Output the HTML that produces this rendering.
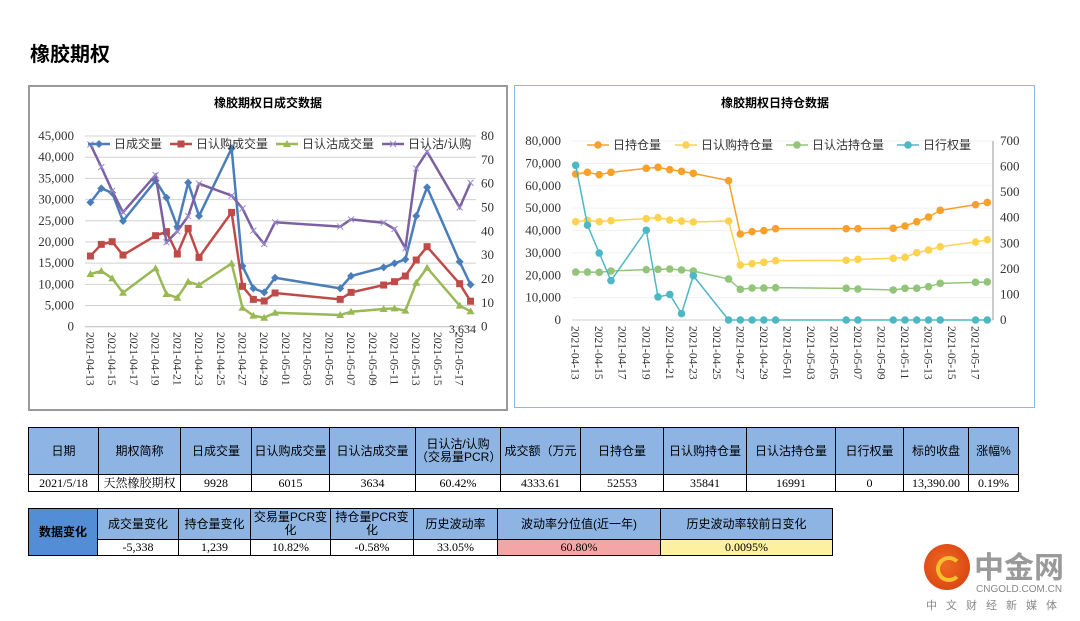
<!DOCTYPE html>
<html><head><meta charset="utf-8">
<style>
body{margin:0;width:1080px;height:621px;background:#fff;position:relative;overflow:hidden;font-family:"Liberation Serif","Noto Serif CJK SC",serif;}
.abs{position:absolute;}
table{border-collapse:collapse;position:absolute;font-size:12px;table-layout:fixed;}
td{border:1px solid #000;text-align:center;padding:0;line-height:13px;overflow:hidden;white-space:nowrap;}
.h td{background:#8db4e2;font-family:"Liberation Sans","Noto Sans CJK SC",sans-serif;font-size:12px;}
</style></head><body>
<div class="abs" style="left:30px;top:38px;font:bold 20px 'Liberation Sans','Noto Sans CJK SC',sans-serif;">橡胶期权</div>
<div class="abs" style="left:28px;top:85px;width:476px;height:322px;border:2px solid #9a9a9a;"></div>
<div class="abs" style="left:514px;top:85px;width:519px;height:321px;border:1.5px solid #8fb4ec;"></div>
<svg class="abs" id="svg" style="left:0;top:0" width="1080" height="421"></svg>

<table style="left:28px;top:427px;width:990px;">
<colgroup><col style="width:70px"><col style="width:82px"><col style="width:71px"><col style="width:78px"><col style="width:86px"><col style="width:85px"><col style="width:80px"><col style="width:83px"><col style="width:83px"><col style="width:89px"><col style="width:68px"><col style="width:65px"><col style="width:50px"></colgroup>
<tr class="h" style="height:47px"><td>日期</td><td>期权简称</td><td>日成交量</td><td>日认购成交量</td><td>日认沽成交量</td><td style="white-space:normal">日认沽/认购（交易量PCR）</td><td>成交额（万元</td><td>日持仓量</td><td>日认购持仓量</td><td>日认沽持仓量</td><td>日行权量</td><td>标的收盘</td><td>涨幅%</td></tr>
<tr style="height:17px"><td>2021/5/18</td><td>天然橡胶期权</td><td>9928</td><td>6015</td><td>3634</td><td>60.42%</td><td>4333.61</td><td>52553</td><td>35841</td><td>16991</td><td>0</td><td>13,390.00</td><td>0.19%</td></tr>
</table>
<table style="left:28px;top:508px;width:804px;">
<colgroup><col style="width:69px"><col style="width:81px"><col style="width:72px"><col style="width:80px"><col style="width:83px"><col style="width:84px"><col style="width:163px"><col style="width:172px"></colgroup>
<tr class="h" style="height:31px"><td rowspan="2" style="background:#538dd5;font-weight:bold;">数据变化</td><td>成交量变化</td><td>持仓量变化</td><td style="white-space:normal">交易量PCR变化</td><td style="white-space:normal">持仓量PCR变化</td><td>历史波动率</td><td>波动率分位值(近一年)</td><td>历史波动率较前日变化</td></tr>
<tr style="height:16px"><td>-5,338</td><td>1,239</td><td>10.82%</td><td>-0.58%</td><td>33.05%</td><td style="background:#f4a6a6">60.80%</td><td style="background:#fdf0a0">0.0095%</td></tr>
</table>

<div class="abs" style="left:924px;top:544px;width:46px;height:46px;border-radius:50%;background:radial-gradient(circle at 45% 45%,#f06a20,#d23a10);"></div>
<div class="abs" style="left:936px;top:556px;width:18px;height:18px;border-radius:50%;border:4px solid #f8c030;border-right-color:transparent;"></div>
<div class="abs" style="left:974px;top:548px;font:bold 30px 'Noto Sans CJK SC',sans-serif;color:#9a9a9a;line-height:34px;">中金网</div>
<div class="abs" style="left:976px;top:584px;font:10px 'Liberation Sans',sans-serif;color:#888;">CNGOLD.COM.CN</div>
<div class="abs" style="left:926px;top:597px;font:11px 'Noto Sans CJK SC',sans-serif;color:#888;letter-spacing:9px;">中文财经新媒体</div>

<script>
const days=[0,1,2,3,6,7,8,9,10,13,14,15,16,17,23,24,27,28,29,30,31,34,35];
const volTotal=[29340,32650,31600,24940,34460,30450,23600,33990,26120,42090,14320,9050,8100,11560,9050,11960,14000,14950,15900,26120,32880,15340,9928];
const volCall=[16680,19430,20060,16910,21480,22420,17150,23210,16360,26980,9520,6450,6060,7950,6450,8100,9830,10620,11960,15730,18880,10150,6015];
const volPut=[12430,13140,11410,8020,13770,7710,6840,10620,9830,14950,4480,2600,2120,3300,2750,3540,4170,4330,3780,10380,13920,4960,3634];
const volRatio=[76.5,67,57,48,63.6,35.4,40,46.4,60,55,49.6,40.3,34.7,43.8,42,45,43.6,41,32.9,66.4,73.4,50,60.4];
const oiTotal=[65250,66000,64950,66000,67780,68230,67190,66440,65550,62270,38440,39480,39930,40820,40820,40820,40970,42010,43950,46030,49010,51550,52553];
const oiCall=[43950,44540,43950,44390,45290,45730,44690,44240,43800,44240,24580,25180,25770,26520,26670,27110,27560,28010,30090,31280,32770,34860,35841];
const oiPut=[21450,21450,21300,21900,22500,22640,22790,22350,21900,18320,13700,14300,14300,14450,14150,13850,13410,14150,14150,14900,16390,16830,16991];
const exercise=[605,371,262,154,351,90,100,25,173,0,0,0,0,0,0,0,0,0,0,0,0,0,0];
const leftTicks=['0','5,000','10,000','15,000','20,000','25,000','30,000','35,000','40,000','45,000'];
const leftRTicks=['0','10','20','30','40','50','60','70','80'];
const rightTicks=['0','10,000','20,000','30,000','40,000','50,000','60,000','70,000','80,000'];
const rightRTicks=['0','100','200','300','400','500','600','700'];
const dateLabels=['2021-04-13','2021-04-15','2021-04-17','2021-04-19','2021-04-21','2021-04-23','2021-04-25','2021-04-27','2021-04-29','2021-05-01','2021-05-03','2021-05-05','2021-05-07','2021-05-09','2021-05-11','2021-05-13','2021-05-15','2021-05-17'];

const svg=document.getElementById('svg');const NS='http://www.w3.org/2000/svg';
function mk(t,a,p){const e=document.createElementNS(NS,t);for(const k in a)e.setAttribute(k,a[k]);(p||svg).appendChild(e);return e;}
const F='"Liberation Serif","Noto Serif CJK SC",serif';
const Lx=d=>85+(d+0.5)*10.86, Ly=v=>326.7-v/45000*190.7, Lyr=v=>326.7-v/80*190.7;
const Rx=d=>575.7+d*11.76, Ry=v=>320-v/80000*179, Ryr=v=>320-v/700*179;
function title(x,t){const e=mk('text',{x:x,y:107,'text-anchor':'middle','font-size':12,'font-weight':'bold','font-family':'"Liberation Sans","Noto Sans CJK SC",sans-serif'});e.textContent=t;}
title(268,'橡胶期权日成交数据');title(775,'橡胶期权日持仓数据');
leftTicks.forEach((t,i)=>{const y=Ly(i*5000);const l=mk('line',{x1:85,x2:476,y1:y,y2:y,stroke:i?'#d0d0d0':'#bbb','stroke-width':1});
 const e=mk('text',{x:74,y:y+4,'text-anchor':'end','font-size':13,'font-family':F,fill:'#333'});e.textContent=t;});
leftRTicks.forEach((t,i)=>{const e=mk('text',{x:481,y:Lyr(i*10)+4,'font-size':13,'font-family':F,fill:'#333'});e.textContent=t;});
rightTicks.forEach((t,i)=>{const y=Ry(i*10000);const l=mk('line',{x1:572,x2:993,y1:y,y2:y,stroke:i?'#f0f0f0':'#ccc','stroke-width':1});
 const e=mk('text',{x:561,y:y+4,'text-anchor':'end','font-size':13,'font-family':F,fill:'#333'});e.textContent=t;});
{const l=mk('line',{x1:993,x2:993,y1:141,y2:320,stroke:'#999'});}
rightRTicks.forEach((t,i)=>{const e=mk('text',{x:1000,y:Ryr(i*100)+4,'font-size':13,'font-family':F,fill:'#333'});e.textContent=t;});
dateLabels.forEach((t,i)=>{[[Lx(i*2),332],[Rx(i*2),326]].forEach(([x,y])=>{const e=mk('text',{x:0,y:0,transform:`translate(${x-4},${y}) rotate(90)`,'font-size':11.5,'font-family':F,fill:'#333'});e.textContent=t;});});
function series(vals,X,Y,col,mark,name,w){
 const pts=vals.map((v,i)=>[X(days[i]),Y(v)]);
 const p=mk('polyline',{points:pts.map(p=>p.join(',')).join(' '),fill:'none',stroke:col,'stroke-width':w||2.5});
 pts.forEach(([x,y])=>{marker(x,y,col,mark,name);});
}
function marker(x,y,col,mark,name){let m;
 if(mark=='d')m=mk('polygon',{points:`${x},${y-4} ${x+4},${y} ${x},${y+4} ${x-4},${y}`,fill:col});
 else if(mark=='s')m=mk('rect',{x:x-3.5,y:y-3.5,width:7,height:7,fill:col});
 else if(mark=='t')m=mk('polygon',{points:`${x},${y-4} ${x+4},${y+3} ${x-4},${y+3}`,fill:col});
 else if(mark=='x')m=mk('path',{d:`M${x-3},${y-3}L${x+3},${y+3}M${x-3},${y+3}L${x+3},${y-3}`,stroke:'#9b8bd0','stroke-width':1});
 else m=mk('circle',{cx:x,cy:y,r:3.8,fill:col});
 }
series(volTotal,Lx,Ly,'#4a7ebb','d','daily-volume');
series(volCall,Lx,Ly,'#be4b48','s','call-volume');
series(volPut,Lx,Ly,'#98b954','t','put-volume');
series(volRatio,Lx,Lyr,'#7d60a0','x','put-call-ratio');
series(oiTotal,Rx,Ry,'#f9a02a','o','open-interest',1.5);
series(oiCall,Rx,Ry,'#fdd24e','o','call-open-interest',1.5);
series(oiPut,Rx,Ry,'#92c57a','o','put-open-interest',1.5);
series(exercise,Rx,Ryr,'#4db8c4','o','exercise-volume',1.5);
{const e=mk('text',{x:476,y:333,'text-anchor':'end','font-size':12,'font-family':F,fill:'#333'});e.textContent='3,634';}
function legend(items,y){items.forEach(([x,col,mark,t,w])=>{const l=mk('line',{x1:x,x2:x+22,y1:y,y2:y,stroke:col,'stroke-width':w});marker(x+11,y,col,mark,'legend');
 const e=mk('text',{x:x+26,y:y+4,'font-size':12,'font-family':'"Liberation Sans","Noto Sans CJK SC",sans-serif',fill:'#333'});e.textContent=t;});}
legend([[88,'#4a7ebb','d','日成交量',2.5],[170,'#be4b48','s','日认购成交量',2.5],[276,'#98b954','t','日认沽成交量',2.5],[382,'#7d60a0','x','日认沽/认购',2.5]],144);
legend([[587,'#f9a02a','o','日持仓量',1.5],[675,'#fdd24e','o','日认购持仓量',1.5],[786,'#92c57a','o','日认沽持仓量',1.5],[897,'#4db8c4','o','日行权量',1.5]],145);
</script>
</body></html>
